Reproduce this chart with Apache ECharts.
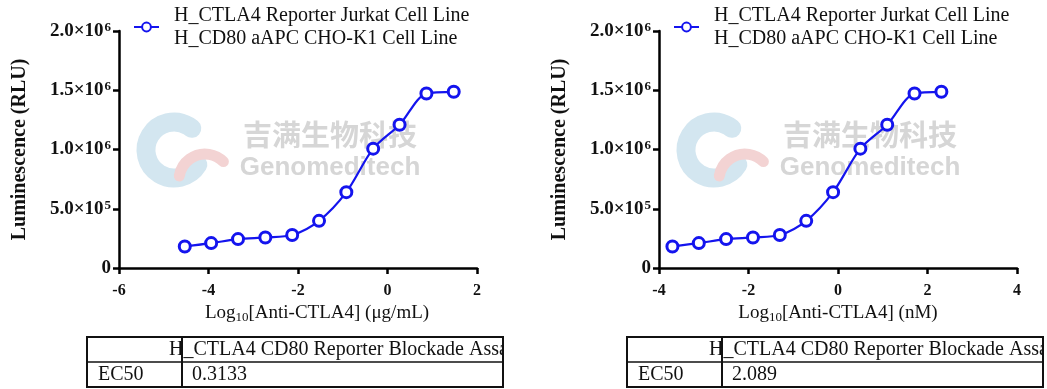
<!DOCTYPE html>
<html>
<head>
<meta charset="utf-8">
<title>H_CTLA4 CD80 Reporter Blockade Assay</title>
<script src="https://cdn.jsdelivr.net/npm/echarts@6.0.0/dist/echarts.min.js"></script>
<style>
  html, body { margin: 0; padding: 0; background: #fff; }
  #main { width: 1047px; height: 389px; }
</style>
</head>
<body>
<div id="main"></div>
<script>
// log10 concentration of each well
var logUgPerMl = [-4.53, -3.94, -3.34, -2.73, -2.13, -1.53, -0.92, -0.32, 0.27, 0.87, 1.48];
var logNM = [-3.70, -3.11, -2.50, -1.90, -1.30, -0.71, -0.11, 0.50, 1.10, 1.71, 2.31];
// luminescence (RLU)
var rluUg = [182000, 210000, 244000, 258000, 278000, 398000, 640000, 1007000, 1209000, 1473000, 1487000];
var rluNM = [182000, 210000, 244000, 258000, 278000, 398000, 640000, 1007000, 1209000, 1473000, 1487000];
// y tick labels: mantissa part and exponent
var yTickBase = ['0', '5.0×10', '1.0×10', '1.5×10', '2.0×10'];
var yTickPow = ['', '5', '6', '6', '6'];
var seriesName = 'H_CTLA4 Reporter Jurkat Cell Line\nH_CD80 aAPC CHO-K1 Cell Line';
var xNames = ['[Anti-CTLA4] (μg/mL)', '[Anti-CTLA4] (nM)'];
var assayTitle = 'H_CTLA4 CD80 Reporter Blockade Assay';
var ec50 = ['0.3133', '2.089'];

var blue = '#1414ee';
var serif = 'Liberation Serif';
var ink = '#111';

function pairs(xs, ys) {
    return xs.map(function (x, i) { return [x, ys[i]]; });
}

function yLabel(v) {
    var i = Math.round(v / 500000);
    if (!yTickPow[i]) return '{b|' + yTickBase[i] + '}';
    return '{b|' + yTickBase[i] + '}{s|' + yTickPow[i] + '}';
}

function xAxisCfg(idx, min, max, name, shift) {
    return {
        type: 'value', gridIndex: idx, min: min, max: max, interval: 2,
        name: '{n|Log}{sub|10}{n|' + name + '}',
        nameLocation: 'middle', nameGap: 33,
        nameTextStyle: {
            padding: [0, 0, 0, shift],
            rich: {
                n: { fontFamily: serif, fontSize: 19, color: ink, lineHeight: 22 },
                sub: { fontFamily: serif, fontSize: 13, color: ink, verticalAlign: 'bottom', lineHeight: 18 }
            }
        },
        axisLine: { onZero: false, lineStyle: { color: '#000', width: 2.5 } },
        axisTick: { length: 6, lineStyle: { color: '#000', width: 2.5 } },
        axisLabel: { margin: 15, fontFamily: serif, fontWeight: 'bold', fontSize: 16, color: ink },
        splitLine: { show: false }
    };
}

function yAxisCfg(idx) {
    return {
        type: 'value', gridIndex: idx, min: 0, max: 2000000, interval: 500000,
        name: 'Luminescence (RLU)', nameLocation: 'middle', nameGap: 89,
        nameTextStyle: { fontFamily: serif, fontWeight: 'bold', fontSize: 20, color: ink },
        axisLine: { show: true, onZero: false, lineStyle: { color: '#000', width: 2.5 } },
        axisTick: { show: true, length: 6, lineStyle: { color: '#000', width: 2.5 } },
        axisLabel: {
            margin: 8, formatter: yLabel,
            rich: {
                b: { fontFamily: serif, fontWeight: 'bold', fontSize: 19, color: ink, lineHeight: 20 },
                s: { fontFamily: serif, fontWeight: 'bold', fontSize: 13, color: ink, verticalAlign: 'top', padding: [0, 0, 0, 1] }
            }
        },
        splitLine: { show: false }
    };
}

function curve(idx, xs, ys) {
    return {
        type: 'line', name: seriesName, xAxisIndex: idx, yAxisIndex: idx,
        data: pairs(xs, ys), smooth: 0.3,
        symbol: 'circle', symbolSize: 11,
        lineStyle: { color: blue, width: 2.2 },
        itemStyle: { color: '#fff', borderColor: blue, borderWidth: 3 },
        z: 3
    };
}

function legendCfg(left) {
    return {
        left: left, top: 4, padding: 0, data: [seriesName],
        itemWidth: 25, itemHeight: 11,
        textStyle: { fontFamily: serif, fontSize: 20, lineHeight: 23, color: ink, padding: [0, 0, 0, 10] }
    };
}

// faint company watermark behind each plot
function watermark(dx) {
    return [
        { type: 'arc', z: -10, shape: { cx: 174 + dx, cy: 150, r: 28, startAngle: 0.55, endAngle: 5.4, clockwise: true },
          style: { stroke: '#d3e6f0', lineWidth: 19, fill: null, lineCap: 'round' } },
        { type: 'arc', z: -9, shape: { cx: 205 + dx, cy: 180, r: 26, startAngle: Math.PI * 1.05, endAngle: Math.PI * 1.75, clockwise: true },
          style: { stroke: '#f3d3d3', lineWidth: 11, fill: null, lineCap: 'round' } },
        { type: 'text', z: -9, x: 330 + dx, y: 135,
          style: { text: '吉满生物科技', font: 'bold 29px "Noto Sans CJK SC"', fill: '#d6d6d6', textAlign: 'center', align: 'center', textVerticalAlign: 'middle', verticalAlign: 'middle' } },
        { type: 'text', z: -9, x: 330 + dx, y: 168,
          style: { text: 'Genomeditech', font: 'bold 26px "Liberation Sans"', fill: '#d6d6d6', textAlign: 'center', align: 'center', textVerticalAlign: 'middle', verticalAlign: 'middle' } }
    ];
}

function table(x0, value) {
    var w = 416;
    var font = '20px "Liberation Serif"';
    return [
        { type: 'rect', z: 1, shape: { x: x0, y: 337, width: w, height: 50 }, style: { fill: '#fff', stroke: '#111', lineWidth: 2 } },
        { type: 'line', z: 2, shape: { x1: x0, y1: 362, x2: x0 + w, y2: 362 }, style: { stroke: '#111', lineWidth: 1.5 } },
        { type: 'text', z: 2, x: x0 + 82, y: 350,
          style: { text: assayTitle, font: font, fill: ink, width: w - 70, overflow: 'truncate', ellipsis: '',
                   textVerticalAlign: 'middle', verticalAlign: 'middle' } },
        { type: 'text', z: 2, x: x0 + 11, y: 375,
          style: { text: 'EC50', font: font, fill: ink, textVerticalAlign: 'middle', verticalAlign: 'middle' } },
        { type: 'text', z: 2, x: x0 + 105, y: 375,
          style: { text: value, font: font, fill: ink, textVerticalAlign: 'middle', verticalAlign: 'middle' } },
        // the header runs past the right edge of the cell: mask what sticks out
        { type: 'rect', z: 3, shape: { x: x0 + w + 1, y: 335, width: 30, height: 30 }, style: { fill: '#fff' } },
        { type: 'line', z: 4, shape: { x1: x0 + w, y1: 336, x2: x0 + w, y2: 388 }, style: { stroke: '#111', lineWidth: 2 } },
        { type: 'line', z: 4, shape: { x1: x0 + 95, y1: 337, x2: x0 + 95, y2: 387 }, style: { stroke: '#111', lineWidth: 2 } }
    ];
}

var myChart = echarts.init(document.getElementById('main'));

var option = {
    backgroundColor: '#fff',
    animation: false,
    grid: [
        { left: 119, top: 31, width: 358, height: 237, outerBoundsMode: 'none' },
        { left: 659, top: 31, width: 358, height: 237, outerBoundsMode: 'none' }
    ],
    legend: [legendCfg(133), legendCfg(673)],
    xAxis: [xAxisCfg(0, -6, 2, xNames[0], 38), xAxisCfg(1, -4, 4, xNames[1], 0)],
    yAxis: [yAxisCfg(0), yAxisCfg(1)],
    series: [curve(0, logUgPerMl, rluUg), curve(1, logNM, rluNM)],
    graphic: watermark(0).concat(watermark(540), table(87, ec50[0]), table(627, ec50[1]))
};

myChart.setOption(option);
</script>
</body>
</html>
